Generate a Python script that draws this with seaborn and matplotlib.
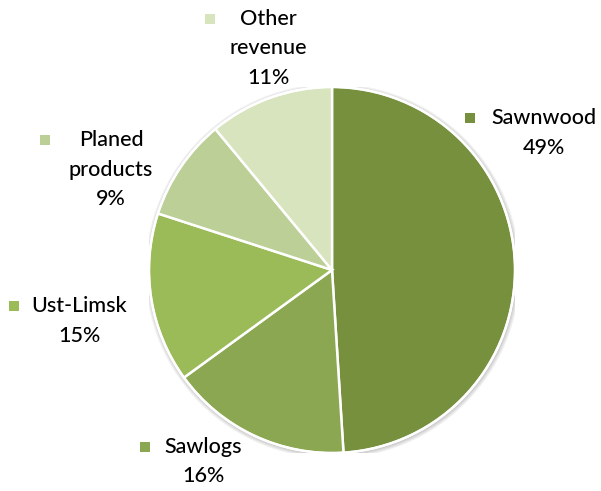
import matplotlib
matplotlib.use("Agg")
import matplotlib.pyplot as plt
from matplotlib.patches import Circle
import seaborn as sns

sns.set_theme(style="white")
plt.rcParams["font.family"] = ["Lato", "DejaVu Sans"]

# Revenue breakdown by segment
categories = ["Sawnwood", "Sawlogs", "Ust-Limsk", "Planed\nproducts", "Other\nrevenue"]
shares = [49, 16, 15, 9, 11]
colors = ["#76903D", "#8BA752", "#9BBB59", "#BBCF96", "#D7E4BD"]

W, H = 601, 491
cx, cy, r = 332, 270, 183

fig = plt.figure(figsize=(W / 100, H / 100), dpi=100)
ax = fig.add_axes([(cx - r) / W, (H - cy - r) / H, 2 * r / W, 2 * r / H])

# soft drop shadow behind the pie
for k, a in enumerate([0.05, 0.05, 0.05, 0.05]):
    ax.add_patch(Circle((0.004, -0.006), 1.0 + 0.006 * (k + 1),
                        color="black", alpha=a, lw=0, zorder=0))

ax.pie(shares, colors=colors, startangle=90, counterclock=False,
       wedgeprops=dict(edgecolor="white", linewidth=1.8, zorder=2),
       radius=1.0)
ax.add_patch(Circle((0, 0), 1.0, fill=False, edgecolor="white", lw=1.5,
                    zorder=3))
ax.set_xlim(-1, 1)
ax.set_ylim(-1, 1)
ax.set_aspect("equal")
ax.axis("off")

# label anchors in pixel coordinates: (square x, text centre x, first line y)
label_anchor = [(470, 544, 118), (145, 203, 447), (14, 79, 306),
                (45, 111, 140), (210, 268, 19)]
line_h = 29.5


def to_data(px, py):
    return (px - cx) / r, (cy - py) / r


for name, val, col, (sx, tx, ty) in zip(categories, shares, colors, label_anchor):
    lines = name.split("\n") + [f"{val}%"]
    mx, my = to_data(sx, ty)
    ax.scatter([mx], [my], marker="s", s=52, color=col, clip_on=False,
               linewidths=0)
    for i, line in enumerate(lines):
        x, y = to_data(tx, ty + i * line_h)
        ax.text(x, y, line, ha="center", va="center", fontsize=15.5,
                fontweight="medium", color="black", clip_on=False)

fig.savefig("out.png", dpi=100, facecolor="white")
